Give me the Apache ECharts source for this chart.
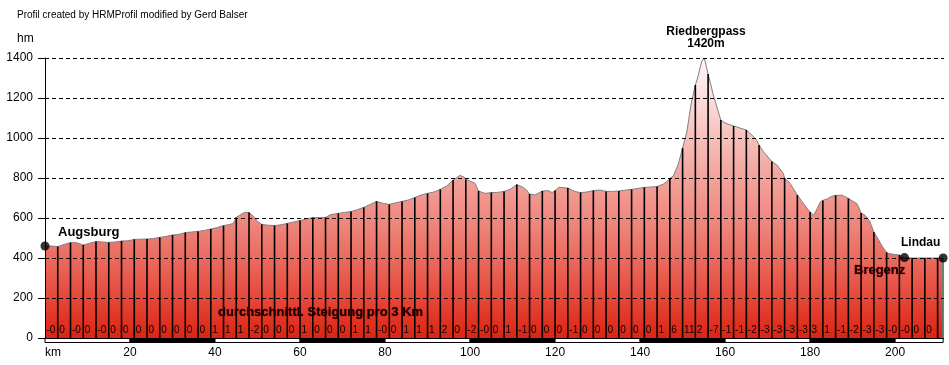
<!DOCTYPE html>
<html><head><meta charset="utf-8">
<script src="https://cdn.jsdelivr.net/npm/echarts@6/dist/echarts.min.js"></script>
<style>html,body{margin:0;padding:0;background:#fff}#c{width:949px;height:365px}</style>
</head><body><div id="c"></div>
<script>
const profileKm = [0,1.5,3,4.5,6,7.5,9,10.5,12,13.5,15,16.5,18,19.5,21,22.5,24,25.5,27,28.5,30,31.5,33,34.5,36,37.5,39,40.5,42,43.5,44.3,45,46,47,48,49.2,50,51,52.5,54,55.5,57,58.5,60,61.5,63,64.5,66,67.2,69,70.5,72,73.5,75,76.5,78,79.6,81,82.5,84,85.5,87,88.5,90,91.5,93,94.5,96,97.6,98.6,99,100.3,101.2,102,103.5,105,106.5,108,109.4,111,112.5,113.3,114,115.3,117,118.4,119.3,120,120.8,123,124.7,126,127.5,129,130.5,132,133.5,135,136.5,138,139.5,141,142.5,144,145.5,146.3,147,147.8,149,150,151,152,153,153.4,154.5,155.1,155.5,156,157.3,158.5,159,160,162,163.5,165,166.3,167.4,168,169,171,172.2,173.7,174,175.3,177,178.5,179.6,180,180.8,181.5,182.4,183,184,185,186,187.5,189,190,191,191.5,192,193,194,195,196,197,198,198.5,200,201,202.2,204,207,210,211.3];
const profileElev = [460,460,457,468,477,476,465,474,482,480,478,480,485,486,493,494,495,497,503,508,515,518,527,530,533,538,545,552,562,568,573,603,617,628,628,605,582,568,564,562,566,573,580,587,595,602,602,603,617,623,628,632,642,653,668,683,673,668,676,683,690,702,715,723,730,743,760,790,813,805,793,782,773,735,723,727,728,733,743,767,753,740,720,715,735,737,727,737,753,750,732,727,730,737,740,733,733,735,739,743,748,753,755,757,770,782,798,810,870,950,1030,1170,1265,1290,1382,1400,1395,1320,1210,1125,1090,1075,1060,1050,1040,1015,990,965,932,882,865,823,800,773,715,670,640,630,613,640,680,688,695,708,713,714,698,685,672,650,625,612,585,530,495,457,428,422,418,415,402,400,400,400,400];
const segmentKm = 3;
const gradientLabels = ['-0','0','-0','0','-0','0','0','0','0','0','0','0','0','1','1','1','-2','0','0','0','1','0',
  '0','0','1','1','-0','0','1','1','1','2','0','-2','-0','0','1','-1','0','0','0','-1','0','0','0','0',
  '0','0','1','6','11','2','-7','-1','-1','-2','-3','-3','-3','-3','3','1','-1','-2','-3','-3','-0','-0','0','0'];
const placeNames = ['Augsburg','Bregenz','Lindau'];
const placeKm = [0,202.2,211.3];
const placeElev = [460,402,400];
const scaleStep = 20;

const FONT = 'Liberation Sans, Arial, sans-serif';
const profile = profileKm.map((k,i)=>[k, profileElev[i]]);
const segLines = profile.filter(p => p[0] > 0 && Math.abs(p[0]/segmentKm - Math.round(p[0]/segmentKm)) < 1e-9);
const endKm = profileKm[profileKm.length-1];
const scaleStarts = [];
for (let s = 0; s < endKm; s += scaleStep) scaleStarts.push([s, Math.min(s+scaleStep, endKm)]);

const chart = echarts.init(document.getElementById('c'), null, {renderer:'canvas'});
chart.setOption({
  animation:false,
  backgroundColor:'#fff',
  grid:{left:45, right:5, top:58, bottom:27},
  xAxis:{type:'value', min:0, max:211.5, interval:20,
    axisLine:{show:false}, axisTick:{show:false}, splitLine:{show:false},
    axisLabel:{color:'#000', fontSize:12, fontFamily:FONT, margin:9, showMaxLabel:false, alignMinLabel:'left',
      formatter:v => v===0 ? 'km' : String(v)}},
  yAxis:{type:'value', min:0, max:1400, interval:200, z:5,
    axisLine:{show:true, lineStyle:{color:'#000', width:1}},
    axisTick:{show:true, length:7, lineStyle:{color:'#000'}},
    axisLabel:{color:'#000', fontSize:12, fontFamily:FONT, margin:12, formatter:v => String(v)},
    splitLine:{show:true, lineStyle:{color:'#000', type:[4,3], width:1}}},
  graphic:[
    {type:'text', left:17, top:10, style:{text:'Profil created by HRMProfil modified by Gerd Balser', font:'10px '+FONT, fill:'#000'}},
    {type:'text', left:17, top:33, style:{text:'hm', font:'12px '+FONT, fill:'#000'}},
    {type:'text', x:706, y:32, style:{text:'Riedbergpass', font:'bold 12px '+FONT, fill:'#000', align:'center', verticalAlign:'middle'}},
    {type:'text', x:706, y:44, style:{text:'1420m', font:'bold 12px '+FONT, fill:'#000', align:'center', verticalAlign:'middle'}},
    {type:'text', x:58, y:232, z:20, style:{text:'Augsburg', font:'bold 13px '+FONT, fill:'#000', align:'left', verticalAlign:'middle'}},
    {type:'text', x:901, y:243, z:20, style:{text:'Lindau', font:'bold 12px '+FONT, fill:'#000', align:'left', verticalAlign:'middle'}},
    {type:'text', x:854, y:270, z:20, style:{text:'Bregenz', font:'bold 13px '+FONT, fill:'#1a0000', align:'left', verticalAlign:'middle', textShadowColor:'#7a0000', textShadowBlur:1}},
    {type:'text', x:218, y:312, z:20, style:{text:'durchschnittl. Steigung pro 3 Km', font:'bold 13px '+FONT, fill:'#1a0000', align:'left', verticalAlign:'middle', textShadowColor:'#7a0000', textShadowBlur:1}}
  ],
  series:[
    {type:'line', data:profile, showSymbol:false, smooth:false, z:1,
      lineStyle:{color:'#808080', width:1},
      areaStyle:{opacity:1, color:new echarts.graphic.LinearGradient(0,0,0,1,[
        {offset:0, color:'#fffafa'},{offset:0.15, color:'#fbdcd9'},{offset:0.3, color:'#f6bcb7'},
        {offset:0.45, color:'#f29f98'},{offset:0.6, color:'#ee847b'},{offset:0.75, color:'#e96356'},
        {offset:0.88, color:'#e34233'},{offset:1, color:'#dc2412'}])}},
    {type:'custom', z:3, data:segLines, renderItem:(params, api)=>{
      const p0 = api.coord([api.value(0), 0]);
      const p1 = api.coord([api.value(0), api.value(1)]);
      return {type:'line', shape:{x1:p0[0], y1:p0[1], x2:p1[0], y2:p1[1]}, style:{stroke:'#000', lineWidth:1.6}};
    }},
    {type:'custom', z:3, data:[profile[profile.length-1]], renderItem:(params, api)=>{
      const p0 = api.coord([api.value(0), 0]);
      const p1 = api.coord([api.value(0), api.value(1)]);
      return {type:'line', shape:{x1:p0[0], y1:p0[1], x2:p1[0], y2:p1[1]}, style:{stroke:'#1a9a9a', lineWidth:1.6}};
    }},
    {type:'custom', z:6, data:gradientLabels.map((g,i)=>[i*segmentKm, g]), renderItem:(params, api)=>{
      const p = api.coord([api.value(0), 0]);
      return {type:'text', x:p[0]+1.5, y:p[1]-7.5, style:{text:gradientLabels[params.dataIndex], font:'10px '+FONT, fill:'#000', align:'left', verticalAlign:'middle'}};
    }},
    {type:'custom', z:6, clip:false, data:scaleStarts, renderItem:(params, api)=>{
      const a = api.coord([api.value(0), 0]);
      const b = api.coord([api.value(1), 0]);
      return {type:'rect', shape:{x:a[0], y:a[1]+0.5, width:b[0]-a[0], height:4},
        style:{fill: params.dataIndex % 2 ? '#000' : '#fff', stroke:'#000', lineWidth:1}};
    }},
    {type:'scatter', z:10, clip:false, symbolSize:9, itemStyle:{color:'#000'},
      data:placeKm.map((k,i)=>({name:placeNames[i], value:[k, placeElev[i]]}))}
  ]
});
</script></body></html>
